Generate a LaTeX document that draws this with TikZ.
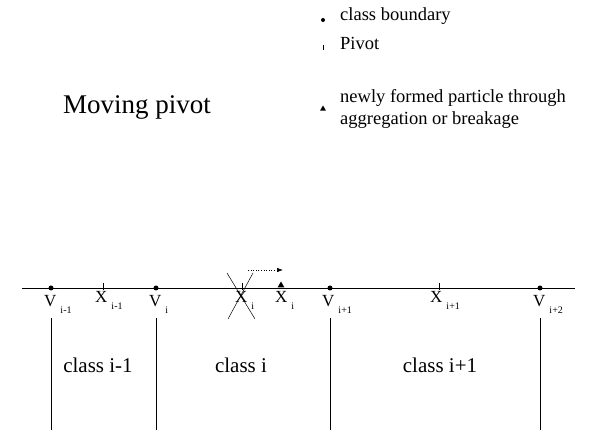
\documentclass[tikz,border=0pt]{standalone}
\usepackage{fontspec}
\setmainfont{Liberation Serif}
\usetikzlibrary{arrows.meta,positioning,shapes.geometric}

\newcommand{\fsz}[2][1.2]{\fontsize{#2}{#1\dimexpr #2pt\relax}\selectfont}
\newcommand{\sublab}[2]{#1\hspace{4pt}\raisebox{-7pt}{\fsz{10}#2}}

\begin{document}
\begin{tikzpicture}[x=1pt, y=-1pt,
  boundary/.style={circle, fill, inner sep=0pt, minimum size=5pt},
  newpart/.style={regular polygon, regular polygon sides=3, fill, inner sep=0pt, minimum size=8pt},
  ptlabel/.style={anchor=base west, inner sep=0pt, font=\fsz{17}},
  classlab/.style={anchor=base, inner sep=0pt, font=\fsz{21}},
  legtext/.style={anchor=base west, inner sep=0pt, align=left, font=\fontsize{18.5}{22}\selectfont},
  axis/.style={line width=0.9pt},
  divider/.style={line width=0.8pt},
  tick/.style={line width=0.5pt},
  arr/.style={-{Latex[length=6pt, width=4.5pt]}, dotted, line width=0.6pt}
]
\useasboundingbox (0,0) rectangle (589,430);

% title
\node[anchor=base west, inner sep=0pt, font=\fsz{27}] (title) at (63,114) {Moving pivot};

% legend
\node[boundary, minimum size=4pt] (legdot) at (323,20) {};
\node[legtext] (legbound) at (340,21) {class boundary};
\draw[tick] (323,45) -- (323,50);
\node[legtext] (legpivot) at (340,50) {Pivot};
\node[newpart, minimum size=7pt] (legtri) at (323,109) {};
\node[legtext] (legnew) at (340,125)
  {newly formed particle through\\aggregation or breakage};

% size axis
\coordinate (lstart) at (22,288);
\coordinate (lend) at (575,288);
\draw[axis] (lstart) -- (lend);

% class boundaries
\foreach \x/\n in {51/a, 156/b, 330/c, 540/d} {
  \node[boundary] (v\n) at (\x,288) {};
  \coordinate (top\n) at (\x,318);
  \coordinate (bot\n) at (\x,430);
  \draw[divider] (top\n) -- (bot\n);
}

% pivots
\foreach \x/\n in {103/a, 242/b, 439/c} {
  \coordinate (pt\n) at (\x,283);
  \coordinate (pb\n) at (\x,290);
  \draw[tick] (pt\n) -- (pb\n);
}

% new particle and moved pivot
\node[newpart] (newp) at (281,285.5) {};
\coordinate (mstart) at (248,270);
\coordinate (mend) at (283,270);
\draw[arr] (mstart) -- (mend);

% labels on the axis
\node[ptlabel] (lva) at (44,307) {\sublab{V}{i-1}};
\node[ptlabel] (lxa) at (95,302) {\sublab{X}{i-1}};
\node[ptlabel] (lvb) at (149,307) {\sublab{V}{i}};
\node[ptlabel] (lxb) at (235,302) {\sublab{X}{i}};
\node[ptlabel] (lxn) at (275,302) {\sublab{X}{i}};
\node[ptlabel] (lvc) at (322,307) {\sublab{V}{i+1}};
\node[ptlabel] (lxc) at (430,302) {\sublab{X}{i+1}};
\node[ptlabel] (lvd) at (533,307) {\sublab{V}{i+2}};

% old pivot crossed out
\coordinate (ca) at (227,273);
\coordinate (cb) at (255,319);
\coordinate (cc) at (253,273);
\coordinate (cd) at (228,319);
\draw[tick] (ca) -- (cb);
\draw[tick] (cc) -- (cd);

% classes
\node[classlab] (cla) at (98,372) {class i-1};
\node[classlab] (clb) at (241,372) {class i};
\node[classlab] (clc) at (440,372) {class i+1};
\end{tikzpicture}
\end{document}
